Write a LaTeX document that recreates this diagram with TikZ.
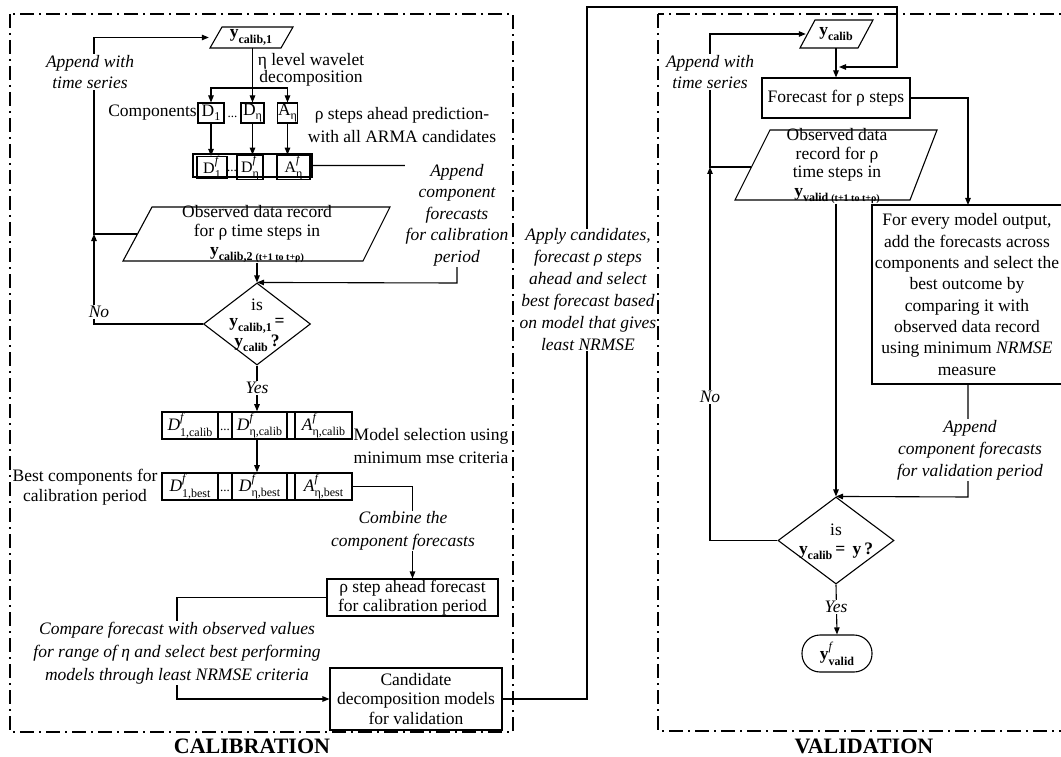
\documentclass[tikz,border=0pt]{standalone}
\usepackage{fontspec}
\setmainfont{Liberation Serif}
\usetikzlibrary{arrows.meta,shapes.geometric,calc}
\newcommand{\yb}[1]{\textbf{y}\raisebox{-0.3em}{\fontsize{12}{12}\selectfont\textbf{#1}}}
\newcommand{\ybx}[2]{\textbf{y}\raisebox{-0.3em}{\fontsize{12}{12}\selectfont\textbf{#1} {\fontsize{10}{10}\selectfont\textbf{#2}}}}
\newcommand{\lsub}[1]{\raisebox{-0.25em}{\fontsize{12}{12}\selectfont #1}}
\newcommand{\sfx}[3]{#1\makebox[0pt][l]{\raisebox{0.55em}{\fontsize{12}{12}\selectfont\textit{#2}}}\raisebox{-0.3em}{\fontsize{12}{12}\selectfont #3}}
\begin{document}
\begin{tikzpicture}[x=1pt,y=-1pt,
  ln/.style={line width=1.1pt},
  arr/.style={line width=1.1pt,-{Triangle[length=7pt,width=5.5pt]}},
  txt/.style={font=\fontsize{17.5}{20}\selectfont, align=center, inner sep=0pt},
  lab/.style={font=\fontsize{17.5}{21.5}\selectfont\itshape, align=center, inner sep=1pt, fill=white},
  bx/.style={draw, line width=1.1pt, inner sep=0pt, align=center, font=\fontsize{17.5}{20}\selectfont},
  tbx/.style={draw, line width=1.6pt, inner sep=0pt, font=\fontsize{17.5}{20}\selectfont},
  frame/.style={line width=1.3pt, dash pattern=on 14pt off 5pt on 2pt off 5pt},
  dia/.style={draw, diamond, line width=1.1pt, inner sep=0pt},
]
\fill[white] (0,0) rectangle (1061,757);
\useasboundingbox (0,0) rectangle (1061,757);

% ---------------- CALIBRATION ----------------
\node[txt, minimum width=84pt, minimum height=21pt] (yc1) at (251,37.5) {\yb{calib,1}};
\draw[ln] (210,48) -- (222,27) -- (293,27) -- (281,48) -- cycle;
\node[txt, font=\fontsize{17.5}{17}\selectfont] (eta) at (311,70) {η level wavelet\\decomposition};

\node[bx, minimum width=26pt, minimum height=20pt] (D1) at (211,113) {D\lsub{1}};
\node[bx, minimum width=23pt, minimum height=20pt] (Dn) at (252.5,113) {D\lsub{η}};
\node[bx, minimum width=20pt, minimum height=20pt] (An) at (287.5,113) {A\lsub{η}};
\node[txt, font=\fontsize{13}{13}\selectfont] (dt1) at (232.5,117) {...};
\node[txt, anchor=east] (comp) at (197,113) {Components};
\node[txt, font=\fontsize{17.5}{23}\selectfont] (rho) at (402,125) {ρ steps ahead prediction-\\with all ARMA candidates};

\node[draw, line width=1.1pt, minimum width=119pt, minimum height=23pt, inner sep=0pt] (frow) at (252.5,165.5) {};
\node[bx, minimum width=30pt, minimum height=17pt, font=\fontsize{16}{16}\selectfont] (Df1) at (212,167.5) {\sfx{D}{f}{1}};
\node[bx, minimum width=26pt, minimum height=17pt, font=\fontsize{16}{16}\selectfont] (Dfn) at (250,167.5) {\sfx{D}{f}{η}};
\node[bx, minimum width=33pt, minimum height=17pt, font=\fontsize{16}{16}\selectfont] (Afn) at (293.5,167.5) {\sfx{A}{f}{η}};
\node[txt, font=\fontsize{13}{13}\selectfont] (dt2) at (232,171) {...};

\node[txt, minimum width=240pt, minimum height=54pt, font=\fontsize{17.5}{19}\selectfont] (obsC) at (257,234) {Observed data record\\for ρ time steps in\\\ybx{calib,2}{(t+1 to t+ρ)}};
\draw[ln] (123,261) -- (152,207) -- (390,207) -- (363,261) -- cycle;

\node[dia, minimum width=107pt, minimum height=82pt] (dC) at (257,324) {};
\node[txt, font=\fontsize{17.5}{16.5}\selectfont] (dCt) at (257,325) {is\\\yb{calib,1}\,\textbf{=}\\\yb{calib}\,\textbf{?}};

\node[tbx, minimum width=190pt, minimum height=27pt] (rowC) at (257,425.5) {};
\node[tbx, minimum width=56pt, minimum height=27pt] (Dc1) at (190,425.5) {\sfx{\textit{D}}{f}{1,calib}};
\node[tbx, minimum width=55pt, minimum height=27pt] (Dcn) at (259.5,425.5) {\sfx{\textit{D}}{f}{η,calib}};
\node[tbx, minimum width=57pt, minimum height=27pt] (Acn) at (323.5,425.5) {\sfx{\textit{A}}{f}{η,calib}};
\node[txt, font=\fontsize{13}{13}\selectfont] (dt3) at (225,430) {...};
\node[txt, font=\fontsize{17.5}{23}\selectfont] (modsel) at (431,446) {Model selection using\\minimum mse criteria};

\node[tbx, minimum width=190pt, minimum height=27pt] (rowB) at (257,486.5) {};
\node[tbx, minimum width=56pt, minimum height=27pt] (Db1) at (190,486.5) {\sfx{\textit{D}}{f}{1,best}};
\node[tbx, minimum width=55pt, minimum height=27pt] (Dbn) at (259.5,486.5) {\sfx{\textit{D}}{f}{η,best}};
\node[tbx, minimum width=57pt, minimum height=27pt] (Abn) at (323.5,486.5) {\sfx{\textit{A}}{f}{η,best}};
\node[txt, font=\fontsize{13}{13}\selectfont] (dt4) at (225,491) {...};
\node[txt] (bestc) at (85,487) {Best components for\\calibration period};

\node[bx, minimum width=171pt, minimum height=37pt, font=\fontsize{17.5}{18.5}\selectfont] (fcC) at (412.5,597.5) {ρ step ahead forecast\\for calibration period};
\node[bx, minimum width=172pt, minimum height=62pt, font=\fontsize{17.5}{19.5}\selectfont] (cand) at (416,699) {Candidate\\decomposition models\\for validation};

% ---------------- VALIDATION ----------------
\node[txt, minimum width=60pt, minimum height=28pt] (yv) at (836,34) {\yb{calib}};
\draw[ln] (800,48) -- (815,20) -- (873,20) -- (858,48) -- cycle;
\node[bx, minimum width=148pt, minimum height=40pt] (fV) at (836,98) {Forecast for ρ steps};
\node[txt, minimum width=170pt, minimum height=70pt, font=\fontsize{17.5}{18.5}\selectfont] (obsV) at (837,166) {Observed data\\record for ρ\\time steps in\\\ybx{valid}{(t+1 to t+ρ)}};
\draw[ln] (735,200) -- (770,130) -- (937,130) -- (910,200) -- cycle;
\node[draw, line width=1.1pt, inner sep=0pt, minimum width=200pt, minimum height=179pt] (big) at (972,294.5) {};
\node[txt, font=\fontsize{17.5}{21.3}\selectfont] (bigt) at (967,294.5) {For every model output,\\add the forecasts across\\components and select the\\best outcome by\\comparing it with\\observed data record\\using minimum \textit{NRMSE}\\measure};
\node[dia, minimum width=116pt, minimum height=87pt] (dV) at (836,540.5) {};
\node[txt, font=\fontsize{17.5}{19}\selectfont] (dVt) at (836,542) {is\\\yb{calib}\,\textbf{=}\, \textbf{y}\,\textbf{?}};
\node[bx, rounded corners=18pt, minimum width=70pt, minimum height=37pt] (term) at (837,653.5) {\sfx{\textbf{y}}{f}{\textbf{valid}}};

% ---------------- connectors ----------------
\coordinate (br) at (252,88);
\draw[arr] (yc1.south -| Dn.north) -- (Dn.north);
\draw[arr] (br) -| (D1.north);
\draw[arr] (br) -| (An.north);
\draw[arr] (D1.south) -- (D1.south |- Df1.north);
\draw[arr] (Dn.south) -- (Dn.south |- Dfn.north);
\draw[arr] (An.south) -- (An.south |- Afn.north);
\coordinate (ac) at (457,283);
\draw[arr] (frow.east) -| (ac) -- (dC.north);
\draw[arr] (obsC.south) -- (dC.north);
\coordinate (nc) at (94,324);
\coordinate (jC) at (94,234);
\coordinate (tc) at (94,37.5);
\coordinate (oc) at (137,234);
\draw[arr] (dC.west) -- (nc) -- (jC);
\draw[arr] (oc) -- (jC) -- (tc) -- (yc1.west);
\draw[arr] (dC.south) -- (rowC.north);
\draw[arr] (rowC.south) -- (rowB.north);
\draw[arr] (rowB.east) -| (fcC.north);
\coordinate (c1) at (177,597.5);
\draw[arr] (fcC.west) -- (c1) |- (cand.west);
\coordinate (t1) at (587,7);
\coordinate (t2) at (897,7);
\coordinate (join) at (839,67);
\draw[arr] (cand.east) -| (t1) -- (t2) |- (join);

\draw[arr] (yv.south) -- (fV.north);
\coordinate (bn) at (968,205);
\draw[arr] (fV.east) -| (bn);
\draw[arr] (dV.north |- obsV.south) -- (dV.north);
\coordinate (bs) at (968,384);
\coordinate (bv) at (968,497);
\draw[arr] (bs) -- (bv) -- (dV.north);
\coordinate (nv) at (710,540.5);
\coordinate (jv) at (710,167);
\coordinate (tv) at (710,34);
\coordinate (ov) at (751,167);
\draw[arr] (dV.west) -- (nv) -- (jv);
\draw[arr] (ov) -- (jv) -- (tv) -- (yv.west);
\draw[arr] (dV.south) -- (term.north);

% ---------------- labels ----------------
\node[lab] (lb1) at (90,72) {Append with\\time series};
\node[lab] (lb2) at (99,312) {No};
\node[lab] (lb3) at (457,215) {Append\\component\\forecasts\\for calibration\\period};
\node[lab] (lb4) at (257,388) {Yes};
\node[lab, font=\fontsize{17.5}{22.5}\selectfont\itshape] (lb5) at (403,531) {Combine the\\component forecasts};
\node[lab, font=\fontsize{17.5}{23}\selectfont\itshape] (lb6) at (177,653) {Compare forecast with observed values\\for range of η and select best performing\\models through least NRMSE criteria};
\node[lab, font=\fontsize{17.5}{22}\selectfont\itshape, inner sep=0pt] (lb7) at (588,290) {Apply candidates,\\forecast ρ steps\\ahead and select\\best forecast based\\on model that gives\\least NRMSE};
\node[lab] (lb8) at (710,72) {Append with\\time series};
\node[lab] (lb9) at (710,397) {No};
\node[lab, font=\fontsize{17.5}{22}\selectfont\itshape] (lb10) at (970,450) {Append\\component forecasts\\for validation period};
\node[lab] (lb11) at (836,607) {Yes};

\node[font=\fontsize{22}{22}\selectfont\bfseries] (calT) at (252,746) {CALIBRATION};
\node[font=\fontsize{22}{22}\selectfont\bfseries] (valT) at (864,746) {VALIDATION};

\draw[frame] (10,14) rectangle (513,732);
\draw[frame] (658,14) rectangle (1075,731);
\end{tikzpicture}
\end{document}
